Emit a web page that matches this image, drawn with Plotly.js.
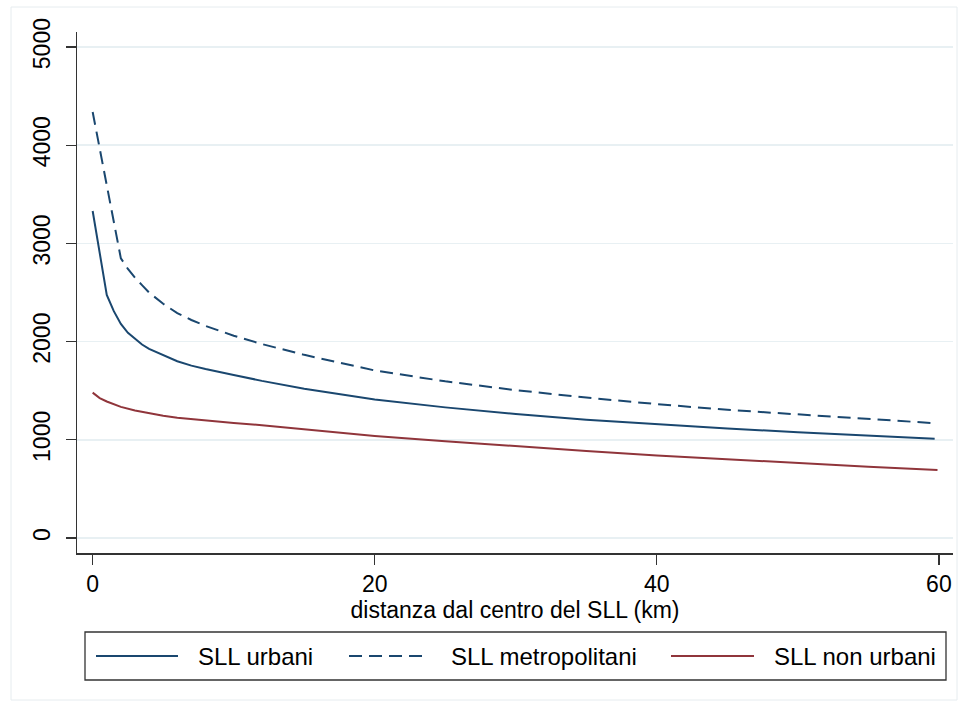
<!DOCTYPE html>
<html>
<head>
<meta charset="utf-8">
<script src="https://cdn.plot.ly/plotly-3.0.1.min.js"></script>
<style>
  html, body { margin: 0; padding: 0; background: #ffffff; }
  #chart { width: 961px; height: 703px; }
</style>
</head>
<body>
<div id="chart"></div>
<script>
// ---- Data ----
const seriesNames = ["SLL urbani", "SLL metropolitani", "SLL non urbani"];

const urbaniX = [0, 1, 1.5, 2, 2.5, 3, 3.5, 4, 5, 6, 7, 8, 10, 12, 15, 20, 25, 30, 35, 40, 45, 50, 55, 59.7];
const urbaniY = [3330, 2475, 2310, 2180, 2090, 2025, 1970, 1925, 1860, 1800, 1755, 1720, 1660, 1600, 1520, 1410, 1330, 1262, 1205, 1160, 1115, 1078, 1042, 1010];

const metroX = [0, 2, 2.5, 3, 3.5, 4, 5, 6, 7, 8, 10, 12, 15, 20, 25, 30, 35, 40, 45, 50, 55, 59.6];
const metroY = [4338, 2848, 2740, 2650, 2575, 2500, 2385, 2290, 2220, 2160, 2060, 1975, 1865, 1706, 1595, 1505, 1430, 1363, 1305, 1258, 1212, 1170];

const nonUrbX = [0, 0.5, 1, 1.5, 2, 3, 4, 5, 6, 8, 10, 12, 15, 20, 25, 30, 35, 40, 45, 50, 55, 59.9];
const nonUrbY = [1480, 1425, 1390, 1360, 1335, 1298, 1268, 1245, 1225, 1195, 1172, 1148, 1105, 1038, 985, 934, 886, 840, 800, 762, 725, 692];

const xTicks = [0, 20, 40, 60];
const yTicks = [0, 1000, 2000, 3000, 4000, 5000];
const xTitle = "distanza dal centro del SLL (km)";

// ---- Styling ----
const navy = "#1a476f";
const maroon = "#90353b";
const dashStyle = "13px,7px";
const FONT = "Liberation Sans, Arial, Helvetica, sans-serif";

const traces = [
  { x: urbaniX, y: urbaniY, name: seriesNames[0], mode: "lines",
    line: { color: navy, width: 2 } },
  { x: metroX, y: metroY, name: seriesNames[1], mode: "lines",
    line: { color: navy, width: 2, dash: dashStyle } },
  { x: nonUrbX, y: nonUrbY, name: seriesNames[2], mode: "lines",
    line: { color: maroon, width: 2 } }
];

// plot area in pixels: x 77..953, y 32..553
const W = 961, H = 703, L = 77, R = 953, T = 32, B = 553;
const px = v => (v - L) / (R - L);
const py = v => (B - v) / (B - T);

const legY = py(656);
const legendItems = [
  { x0: 96, x1: 178, tx: 196, color: navy, dash: "solid" },
  { x0: 349, x1: 428, tx: 449, color: navy, dash: dashStyle },
  { x0: 671, x1: 754, tx: 772, color: maroon, dash: "solid" }
];

const shapes = [
  // outer graph frame
  { type: "rect", xref: "paper", yref: "paper",
    x0: px(11), x1: px(957), y0: py(700), y1: py(7),
    line: { color: "#e6ecef", width: 1 }, fillcolor: "rgba(0,0,0,0)", layer: "below" },
  // legend box
  { type: "rect", xref: "paper", yref: "paper",
    x0: px(85), x1: px(946), y0: py(680), y1: py(632),
    line: { color: "#333333", width: 1.3 }, fillcolor: "#ffffff" }
];
const annotations = [];
legendItems.forEach((it, i) => {
  shapes.push({ type: "line", xref: "paper", yref: "paper",
    x0: px(it.x0), x1: px(it.x1), y0: legY, y1: legY,
    line: { color: it.color, width: 2, dash: it.dash } });
  annotations.push({ xref: "paper", yref: "paper", x: px(it.tx), y: legY,
    xanchor: "left", yanchor: "middle", showarrow: false,
    text: seriesNames[i], font: { family: FONT, size: 24, color: "#000000" } });
});

const layout = {
  width: W, height: H,
  margin: { l: L, r: W - R, t: T, b: H - B, pad: 0 },
  paper_bgcolor: "#ffffff",
  plot_bgcolor: "#ffffff",
  showlegend: false,
  font: { family: FONT, size: 23, color: "#000000" },
  xaxis: {
    range: [-1.11, 61.0],
    tickmode: "array", tickvals: xTicks, ticktext: xTicks.map(String),
    ticks: "outside", ticklen: 10, tickwidth: 1.3, tickcolor: "#333333",
    showline: true, linecolor: "#333333", linewidth: 1.5,
    showgrid: false, zeroline: false,
    tickfont: { family: FONT, size: 23, color: "#000000" },
    title: { text: xTitle, font: { family: FONT, size: 23, color: "#000000" }, standoff: 3 }
  },
  yaxis: {
    range: [-153, 5153],
    tickmode: "array", tickvals: yTicks, ticktext: yTicks.map(String),
    tickangle: -90,
    ticks: "outside", ticklen: 10, tickwidth: 1.3, tickcolor: "#333333",
    showline: true, linecolor: "#333333", linewidth: 1.5,
    showgrid: true, gridcolor: "#e8f0f3", gridwidth: 1.5, zeroline: false,
    tickfont: { family: FONT, size: 23, color: "#000000" },
    ticklabelstandoff: 6
  },
  shapes: shapes,
  annotations: annotations
};

Plotly.newPlot("chart", traces, layout, { displayModeBar: false, staticPlot: true });
</script>
</body>
</html>
